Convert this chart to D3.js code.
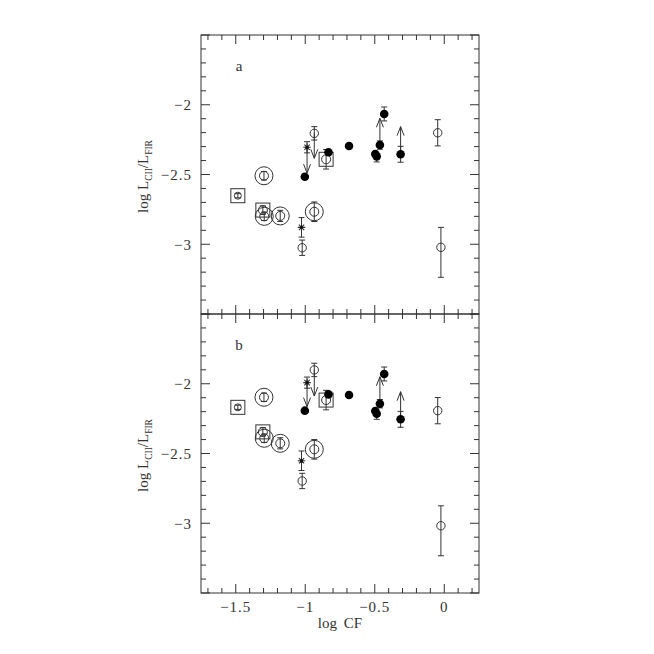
<!DOCTYPE html>
<html><head><meta charset="utf-8">
<script src="https://cdn.jsdelivr.net/npm/d3@7"></script>
<style>html,body{margin:0;padding:0;background:#fff}svg{display:block}</style>
</head><body>
<svg id="c" width="654" height="654"></svg>
<script>
// ---- data ----
const xTicks = [-1.5, -1, -0.5, 0];
const xTickLabels = ["\u22121.5", "\u22121", "\u22120.5", "0"];
const yTicks = [-3, -2.5, -2];
const yTickLabels = ["\u22123", "\u22122.5", "\u22122"];
const types = ["square","double","square","double","double","double","star","open","filled","star","open","square","filled","filled","filled","filled","filled","filled","filled","open","open"];
const logCF = [-1.485,-1.297,-1.305,-1.295,-1.180,-0.935,-1.027,-1.022,-1.003,-0.987,-0.935,-0.850,-0.833,-0.685,-0.496,-0.486,-0.463,-0.432,-0.314,-0.047,-0.024];
const ratioA = [-2.652,-2.509,-2.755,-2.800,-2.797,-2.767,-2.879,-3.025,-2.516,-2.305,-2.205,-2.391,-2.341,-2.296,-2.353,-2.370,-2.289,-2.066,-2.355,-2.201,-3.022];
const ratioB = [-2.169,-2.097,-2.345,-2.391,-2.427,-2.470,-2.552,-2.697,-2.193,-1.992,-1.901,-2.117,-2.076,-2.081,-2.195,-2.215,-2.143,-1.930,-2.255,-2.193,-3.018];
const errHi = [0.015,0.03,0.03,0.03,0.04,0.07,0.07,0.055,0,0.04,0.048,0.07,0,0,0,0,0.03,0.05,0.057,0.094,0.143];
const errLo = [0.015,0.03,0.03,0.03,0.04,0.07,0.07,0.055,0,0.04,0.048,0.07,0,0,0,0.04,0.03,0.05,0.057,0.094,0.215];
const limitA = [null,null,null,null,null,null,null,null,null,-2.49,-2.384,null,null,null,null,null,-2.097,null,-2.157,null,null];
const limitB = [null,null,null,null,null,null,null,null,null,-2.164,-2.088,null,null,null,null,null,-1.95,null,-2.057,null,null];
const panels = [{label:"a", y:ratioA, lim:limitA}, {label:"b", y:ratioB, lim:limitB}];

// ---- layout ----
const L = 201, R = 479, T = 35, M = 314, B = 593;
const ink = "#333";
const font = "'Liberation Serif','DejaVu Serif',serif";
const svg = d3.select("#c");
const x = d3.scaleLinear().domain([-1.75, 0.25]).range([L, R]);
const minorX = d3.range(-17, 3).map(v => v / 10);
const minorY = d3.range(-35, -14).map(v => v / 10);

panels.forEach((p, pi) => {
  const top = pi === 0 ? T : M, bot = pi === 0 ? M : B;
  const y = d3.scaleLinear().domain([-3.5, -1.5]).range([bot, top]);
  const g = svg.append("g");
  g.append("rect").attr("x", L).attr("y", top).attr("width", R - L).attr("height", bot - top)
    .attr("fill", "none").attr("stroke", ink).attr("stroke-width", 1);
  // ticks
  const isMaj = v => Math.abs(v * 2 - Math.round(v * 2)) < 1e-6;
  minorX.forEach(v => {
    const len = isMaj(v) ? 9 : 5, px = x(v);
    g.append("line").attr("x1", px).attr("x2", px).attr("y1", bot).attr("y2", bot - len).attr("stroke", ink);
    g.append("line").attr("x1", px).attr("x2", px).attr("y1", top).attr("y2", top + len).attr("stroke", ink);
  });
  minorY.forEach(v => {
    const len = isMaj(v) ? 9 : 5, py = y(v);
    g.append("line").attr("x1", L).attr("x2", L + len).attr("y1", py).attr("y2", py).attr("stroke", ink);
    g.append("line").attr("x1", R).attr("x2", R - len).attr("y1", py).attr("y2", py).attr("stroke", ink);
  });
  yTicks.forEach((v, i) => {
    g.append("text").attr("x", 192).attr("y", y(v)).attr("dy", "0.35em").attr("text-anchor", "end")
      .attr("font-family", font).attr("font-size", 15).attr("letter-spacing", 1).attr("fill", ink).text(yTickLabels[i]);
  });
  // y label
  const yl = g.append("text").attr("transform", `translate(148,${(top + bot) / 2 + 2}) rotate(-90)`)
    .attr("text-anchor", "middle").attr("font-family", font).attr("font-size", 15).attr("fill", ink);
  yl.append("tspan").text("log  L");
  yl.append("tspan").attr("font-size", 9.5).attr("dy", 4).text("CII");
  yl.append("tspan").attr("dy", -4).text("/L");
  yl.append("tspan").attr("font-size", 9.5).attr("dy", 4).text("FIR");
  // panel label
  g.append("text").attr("x", 239).attr("y", top + 36).attr("text-anchor", "middle")
    .attr("font-family", font).attr("font-size", 15).attr("fill", ink).text(p.label);

  // points
  logCF.forEach((cf, i) => {
    const px = x(cf), py = y(p.y[i]), t = types[i];
    // limit arrows
    const lv = p.lim[i];
    if (lv !== null) {
      const ey = y(lv);
      g.append("line").attr("x1", px).attr("x2", px).attr("y1", py).attr("y2", ey).attr("stroke", ink);
      const dir = ey > py ? -1 : 1;
      g.append("path").attr("d", `M${px - 3.5},${ey + dir * 9}L${px},${ey}L${px + 3.5},${ey + dir * 9}`)
        .attr("fill", "none").attr("stroke", ink);
    }
    // error bars
    if (errHi[i] > 0 || errLo[i] > 0) {
      const y1 = y(p.y[i] + errHi[i]), y2 = y(p.y[i] - errLo[i]);
      g.append("line").attr("x1", px).attr("x2", px).attr("y1", y1).attr("y2", y2).attr("stroke", ink);
      [y1, y2].forEach(yy => g.append("line").attr("x1", px - 3).attr("x2", px + 3).attr("y1", yy).attr("y2", yy).attr("stroke", ink));
    }
    if (t === "filled") {
      g.append("circle").attr("cx", px).attr("cy", py).attr("r", 4.3).attr("fill", "#000");
    } else if (t === "open") {
      g.append("circle").attr("cx", px).attr("cy", py).attr("r", 4.2).attr("fill", "none").attr("stroke", ink);
    } else if (t === "double") {
      g.append("circle").attr("cx", px).attr("cy", py).attr("r", 4.5).attr("fill", "none").attr("stroke", ink);
      g.append("circle").attr("cx", px).attr("cy", py).attr("r", 9).attr("fill", "none").attr("stroke", ink);
    } else if (t === "square") {
      g.append("rect").attr("x", px - 7).attr("y", py - 7).attr("width", 14).attr("height", 14)
        .attr("fill", "none").attr("stroke", ink);
      g.append("circle").attr("cx", px).attr("cy", py).attr("r", i === 0 ? 3.5 : 4.5).attr("fill", "none").attr("stroke", ink);
    } else if (t === "star") {
      const r = 3.8;
      const d = d3.range(4).map(k => {
        const a = k * Math.PI / 4, dx = r * Math.cos(a), dy = r * Math.sin(a);
        return `M${px - dx},${py - dy}L${px + dx},${py + dy}`;
      }).join("");
      g.append("path").attr("d", d).attr("fill", "none").attr("stroke", ink).attr("stroke-width", 1.1);
      g.append("circle").attr("cx", px).attr("cy", py).attr("r", 1.6).attr("fill", "#111");
    }
  });
});

// x tick labels and label
xTicks.forEach((v, i) => {
  svg.append("text").attr("x", x(v)).attr("y", 612).attr("text-anchor", "middle")
    .attr("font-family", font).attr("font-size", 15).attr("letter-spacing", 1).attr("fill", ink).text(xTickLabels[i]);
});
svg.append("text").attr("x", 340).attr("y", 628).attr("text-anchor", "middle")
  .attr("font-family", font).attr("font-size", 15).attr("word-spacing", 3).attr("fill", ink).text("log CF");
</script>
</body></html>
